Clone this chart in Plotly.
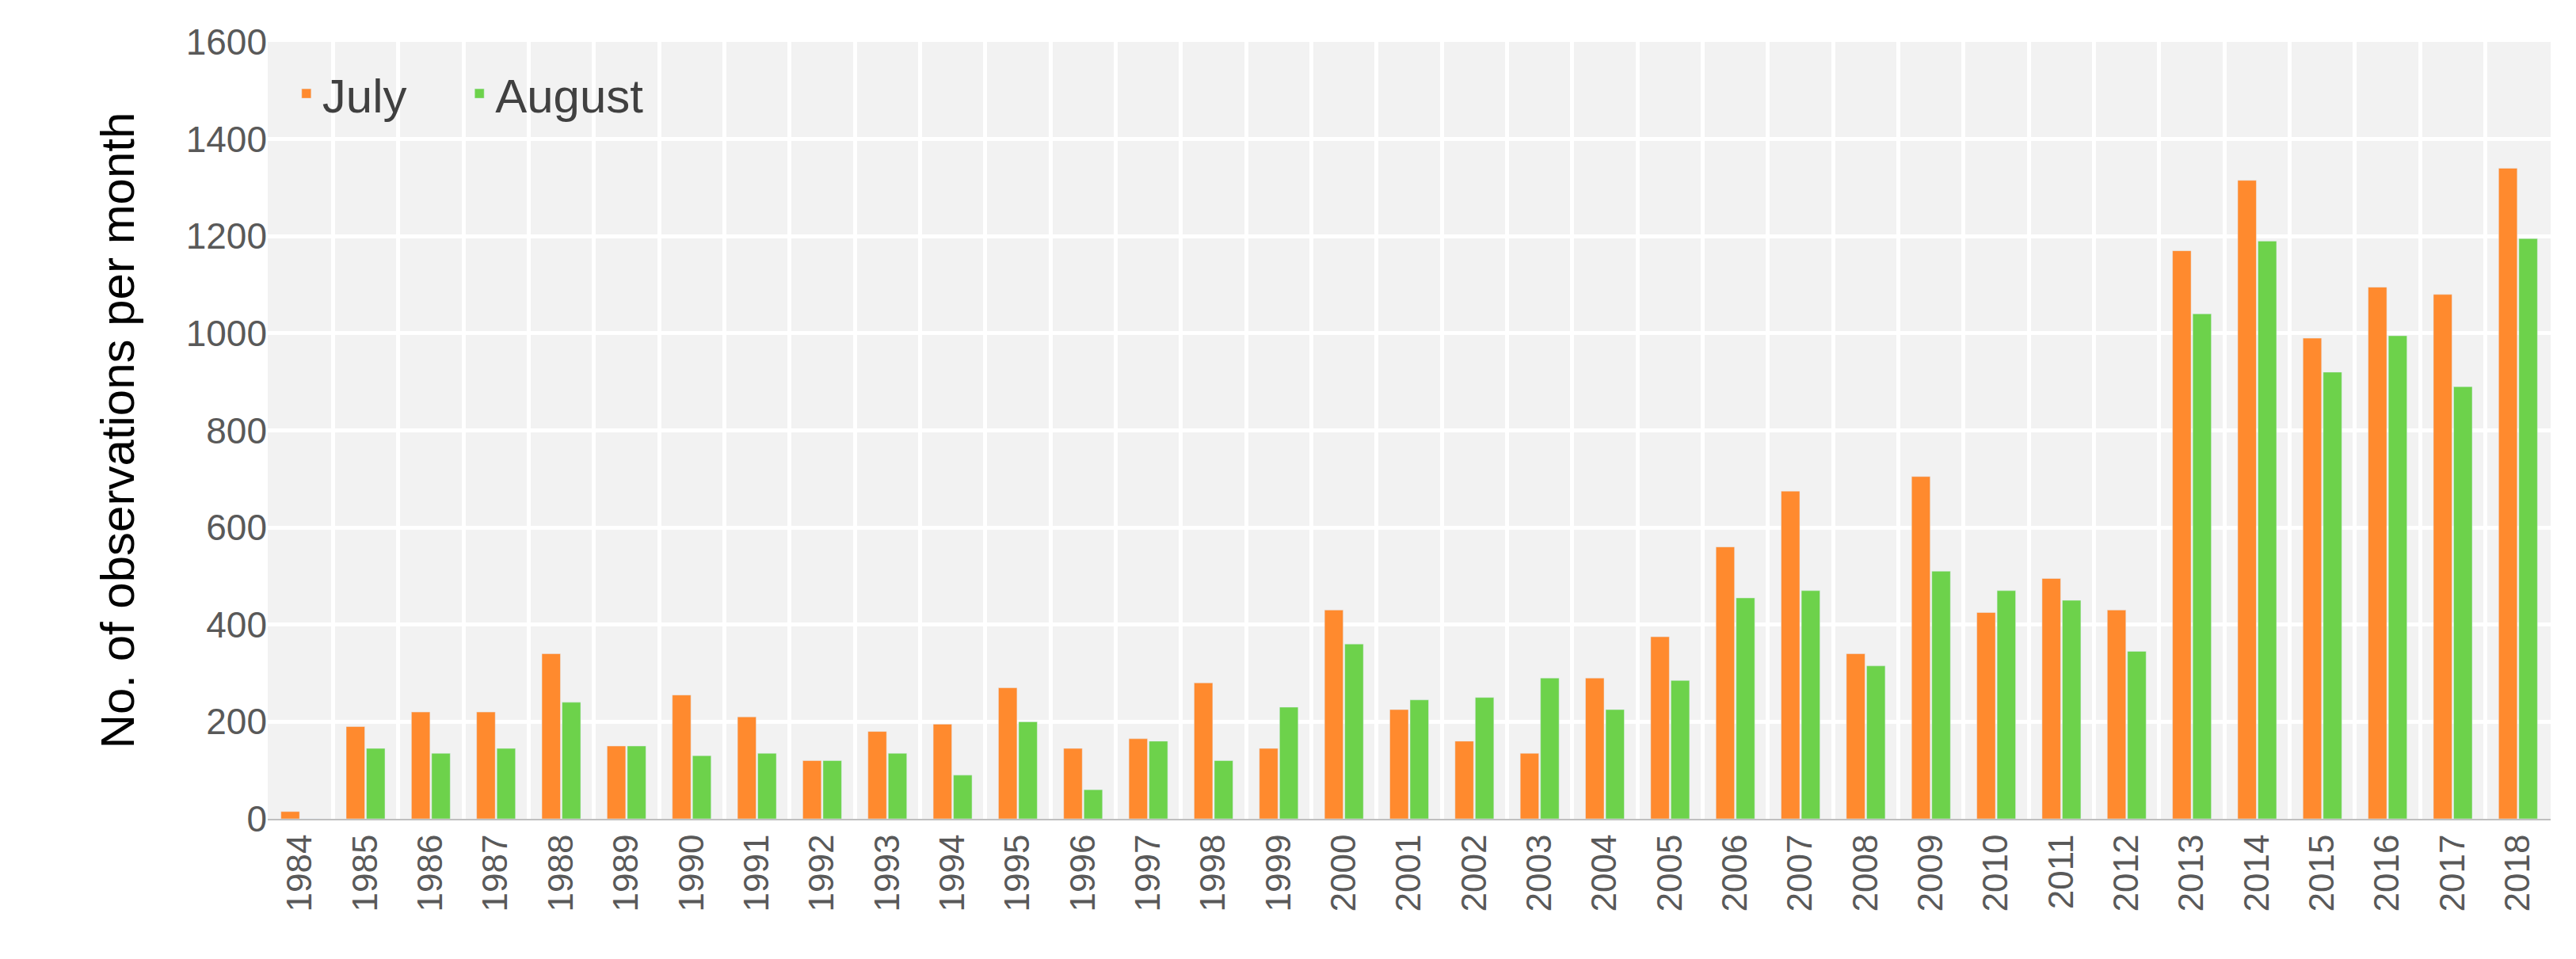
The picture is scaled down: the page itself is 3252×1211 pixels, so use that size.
import plotly.graph_objects as go

years = list(range(1984, 2019))
july = [15,190,220,220,340,150,255,210,120,180,195,270,145,165,280,145,430,225,160,135,290,375,560,675,340,705,425,495,430,1170,1315,990,1095,1080,1340]
august = [0,145,135,145,240,150,130,135,120,135,90,200,60,160,120,230,360,245,250,290,225,285,455,470,315,510,470,450,345,1040,1190,920,995,890,1195]

fig = go.Figure()
fig.add_trace(go.Bar(x=years, y=july, name="July    ", marker_color="#FF8A2E"))
fig.add_trace(go.Bar(x=years, y=august, name="August", marker_color="#6DD24B"))

fig.update_layout(
    width=3252, height=1211, barmode="group", bargap=0.38, bargroupgap=0.08,
    plot_bgcolor="#F2F2F2", paper_bgcolor="white",
    margin=dict(l=330, r=40, t=45, b=185),
    font=dict(family="Liberation Sans, Arial", color="#595959", size=44),
    legend=dict(orientation="h", x=0.01, y=0.98, xanchor="left", yanchor="top",
                bgcolor="rgba(0,0,0,0)", font=dict(size=60, color="#404040"), itemwidth=30),
    xaxis=dict(type="linear", range=[1983.5, 2018.5], tickvals=years, ticktext=[str(y) for y in years],
               tickangle=-90, showgrid=False, zeroline=False, showline=True, linecolor="#BFBFBF", linewidth=2,
               ticks="", tickfont=dict(size=44),
               minor=dict(tick0=1984.5, dtick=1, showgrid=True, gridcolor="white", gridwidth=5)),
    yaxis=dict(range=[0, 1600], dtick=200, gridcolor="white", gridwidth=5, zeroline=False,
               title=dict(text="No. of observations per month", font=dict(size=60, color="#000000"), standoff=45),
               tickfont=dict(size=46)),
)
fig.write_html("out.html")
